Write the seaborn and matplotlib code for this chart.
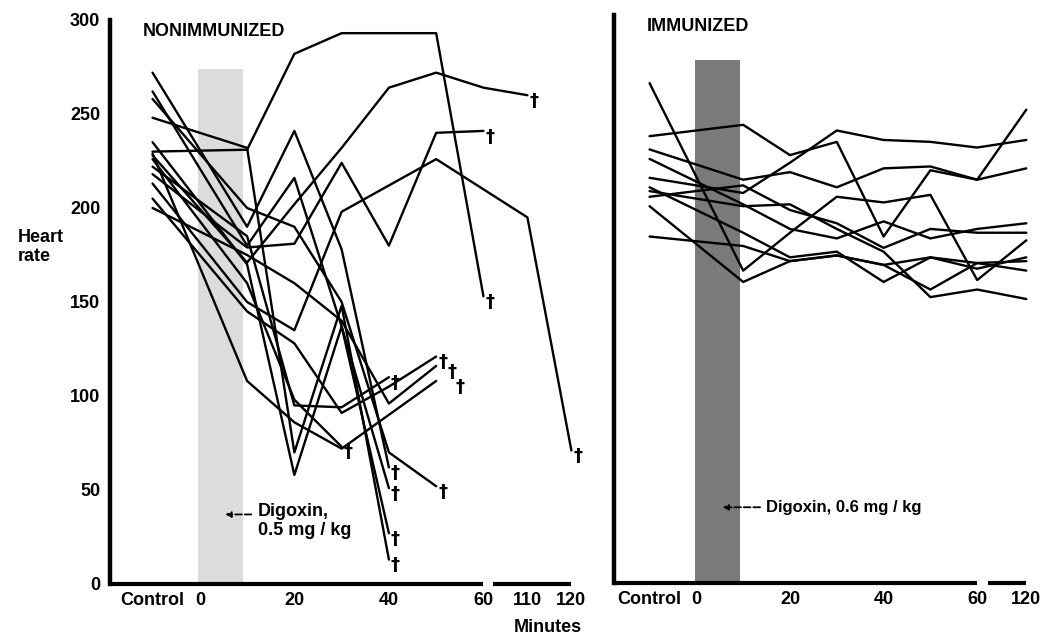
import numpy as np
import pandas as pd
import seaborn as sns
from matplotlib import pyplot as plt

nan = np.nan

# sampling times in minutes (-10 = control reading)
left_minutes = [-10, 10, 20, 30, 40, 50, 60, 110, 120]
right_minutes = [-10, 10, 20, 30, 40, 50, 60, 120]

# nonimmunized dogs (heart rate), each series ends at death
non_a = [230, 231, 282, 293, 293, 293, 153]
non_b = [248, 232, 70, 148, 13]
non_c = [272, 190, 241, 178, 62]
non_d = [262, 180, 216, 137, 51]
non_e = [228, 171, 202, 232, 264, 272, 264, 260]
non_f = [218, 179, 181, 224, 180, 240, 241]
non_g = [213, 150, 135, 198, 212, 226, nan, 195, 71]
non_h = [226, 160, 98, 73]
non_i = [229, 108, 86, 72, 90, 108]
non_j = [222, 185, 95, 94, 110]
non_k = [205, 145, 128, 91, 105, 121]
non_l = [200, 175, 160, 140, 96, 116]
non_m = [258, 200, 190, 150, 70, 52]
non_n = [235, 170, 58, 137, 27]

# immunized dogs
imm_1 = [236, 242, 226, 233, 183, 218, 213, 250]
imm_2 = [214, 206, 222, 239, 234, 233, 230, 234]
imm_3 = [229, 213, 217, 209, 219, 220, 213, 219]
imm_4 = [264, 165, 185, 204, 201, 205, 160, 181]
imm_5 = [224, 200, 187, 182, 191, 182, 187, 190]
imm_6 = [204, 210, 197, 190, 177, 187, 185, 185]
imm_7 = [207, 199, 200, 187, 175, 151, 155, 150]
imm_8 = [199, 159, 170, 173, 168, 155, 169, 170]
imm_9 = [183, 178, 170, 173, 168, 172, 166, 172]
imm_10 = [209, 185, 172, 175, 159, 172, 169, 165]

nonimmunized = [non_a, non_b, non_c, non_d, non_e, non_f, non_g,
                non_h, non_i, non_j, non_k, non_l, non_m, non_n]
immunized = [imm_1, imm_2, imm_3, imm_4, imm_5, imm_6, imm_7, imm_8, imm_9, imm_10]

# broken time axis: late readings squeezed in after 60 min
left_late = {110: 69.3, 120: 78.6}
right_late = {120: 70.5}

# nudge crowded daggers sideways (dog index -> minutes)
dagger_dx = {8: 3.6, 11: 1.9}


def long_table(series, minutes, late):
    rows = []
    for i, hr in enumerate(series):
        for m, v in zip(minutes, hr):
            if not np.isnan(v):
                rows.append([i, m, late.get(m, m), v])
    return pd.DataFrame(rows, columns=['dog', 'minute', 'pos', 'hr'])


df_left = long_table(nonimmunized, left_minutes, left_late)
df_right = long_table(immunized, right_minutes, right_late)

sns.set_style("white")
plt.rcParams['font.family'] = ['Liberation Sans Narrow', 'Liberation Sans', 'DejaVu Sans']
plt.rcParams['font.weight'] = 'bold'
plt.rcParams['text.color'] = 'black'
plt.rcParams['xtick.color'] = 'black'
plt.rcParams['ytick.color'] = 'black'

fig = plt.figure(figsize=(10.43, 6.41), dpi=100)
ax1 = fig.add_axes([110 / 1043, 57 / 641, 468 / 1043, 564 / 641])
ax2 = fig.add_axes([614 / 1043, 58 / 641, 417 / 1043, 568 / 641])

ax1.axvspan(-0.3, 9.1, ymax=274 / 300, color='#dcdcdc', lw=0, zorder=0)
ax2.axvspan(-0.2, 9.3, ymax=276 / 300, color='#7a7a7a', lw=0, zorder=0)

sns.lineplot(data=df_left, x='pos', y='hr', units='dog', estimator=None,
             color='black', lw=1.7, sort=False, ax=ax1)
sns.lineplot(data=df_right, x='pos', y='hr', units='dog', estimator=None,
             color='black', lw=1.7, sort=False, ax=ax2)

# dagger at each death
for dog, grp in df_left.groupby('dog'):
    last = grp.iloc[-1]
    ax1.text(last['pos'] + 0.4 + dagger_dx.get(dog, 0), last['hr'] - 3, '\u2020',
             fontsize=13, ha='left', va='center', family='DejaVu Sans')

ax1.set_xlim(-19, 80)
ax2.set_xlim(-17.6, 71.5)
for ax in (ax1, ax2):
    ax.set_ylim(0, 300)
    ax.set_xlabel('')
    ax.set_ylabel('')
    for s in ('top', 'right', 'bottom'):
        ax.spines[s].set_visible(False)
    ax.spines['left'].set_linewidth(3.2)
    ax.spines['left'].set_color('black')
    ax.set_yticks(range(0, 301, 50))
    ax.set_yticks(range(25, 300, 50), minor=True)
    ax.tick_params(axis='y', which='major', direction='in', length=16, width=1.6)
    ax.tick_params(axis='y', which='minor', direction='in', length=11, width=1.6)
    ax.tick_params(axis='x', which='major', direction='in', length=15, width=1.8,
                   labelsize=13, pad=6)
    ax.tick_params(axis='x', which='minor', direction='in', length=6, width=1.6,
                   labelsize=13, pad=6)

ax1.tick_params(axis='y', labelsize=13, pad=7)
ax1.set_yticklabels([str(v) for v in range(0, 301, 50)])
ax2.set_yticklabels([])

# bottom axis with a break after 60 min
ax1.plot([-19, 60], [0, 0], color='black', lw=3, clip_on=False, solid_capstyle='butt')
ax1.plot([62, 78.6], [0, 0], color='black', lw=3, clip_on=False, solid_capstyle='butt')
ax2.plot([-17.6, 60], [0, 0], color='black', lw=3, clip_on=False, solid_capstyle='butt')
ax2.plot([62.4, 70.5], [0, 0], color='black', lw=3, clip_on=False, solid_capstyle='butt')

ax1.set_xticks([0, 20, 40, 60, 78.6], ['0', '20', '40', '60', '120'])
ax1.set_xticks([-10, 10, 30, 50, 69.3], ['Control', '', '', '', '110'], minor=True)
ax2.set_xticks([0, 20, 40, 60, 70.5], ['0', '20', '40', '60', '120'])
ax2.set_xticks([-10, 10, 30, 50], ['Control', '', '', ''], minor=True)

ax1.text(-12, 294, 'NONIMMUNIZED', fontsize=13, ha='left', va='center')
ax2.text(-10.5, 294, 'IMMUNIZED', fontsize=13, ha='left', va='center')

ax1.annotate('', xy=(4.8, 37), xytext=(11.5, 37),
             arrowprops=dict(arrowstyle='-|>', ls='--', lw=1.3, color='black',
                             mutation_scale=8))
ax1.text(12.3, 43, 'Digoxin,\n0.5 mg / kg', fontsize=13, ha='left', va='top',
         linespacing=1.15)
ax2.annotate('', xy=(5.0, 40), xytext=(14.2, 40),
             arrowprops=dict(arrowstyle='-|>', ls='--', lw=1.3, color='black',
                             mutation_scale=8))
ax2.text(14.8, 40, 'Digoxin, 0.6 mg / kg', fontsize=12, ha='left', va='center')

fig.text(18 / 1043, 1 - 247 / 641, 'Heart\nrate', fontsize=13, ha='left', va='center',
         linespacing=1.1)
fig.text(548 / 1043, 1 - 628 / 641, 'Minutes', fontsize=13, ha='center', va='center')

fig.savefig('out.png', dpi=100)
